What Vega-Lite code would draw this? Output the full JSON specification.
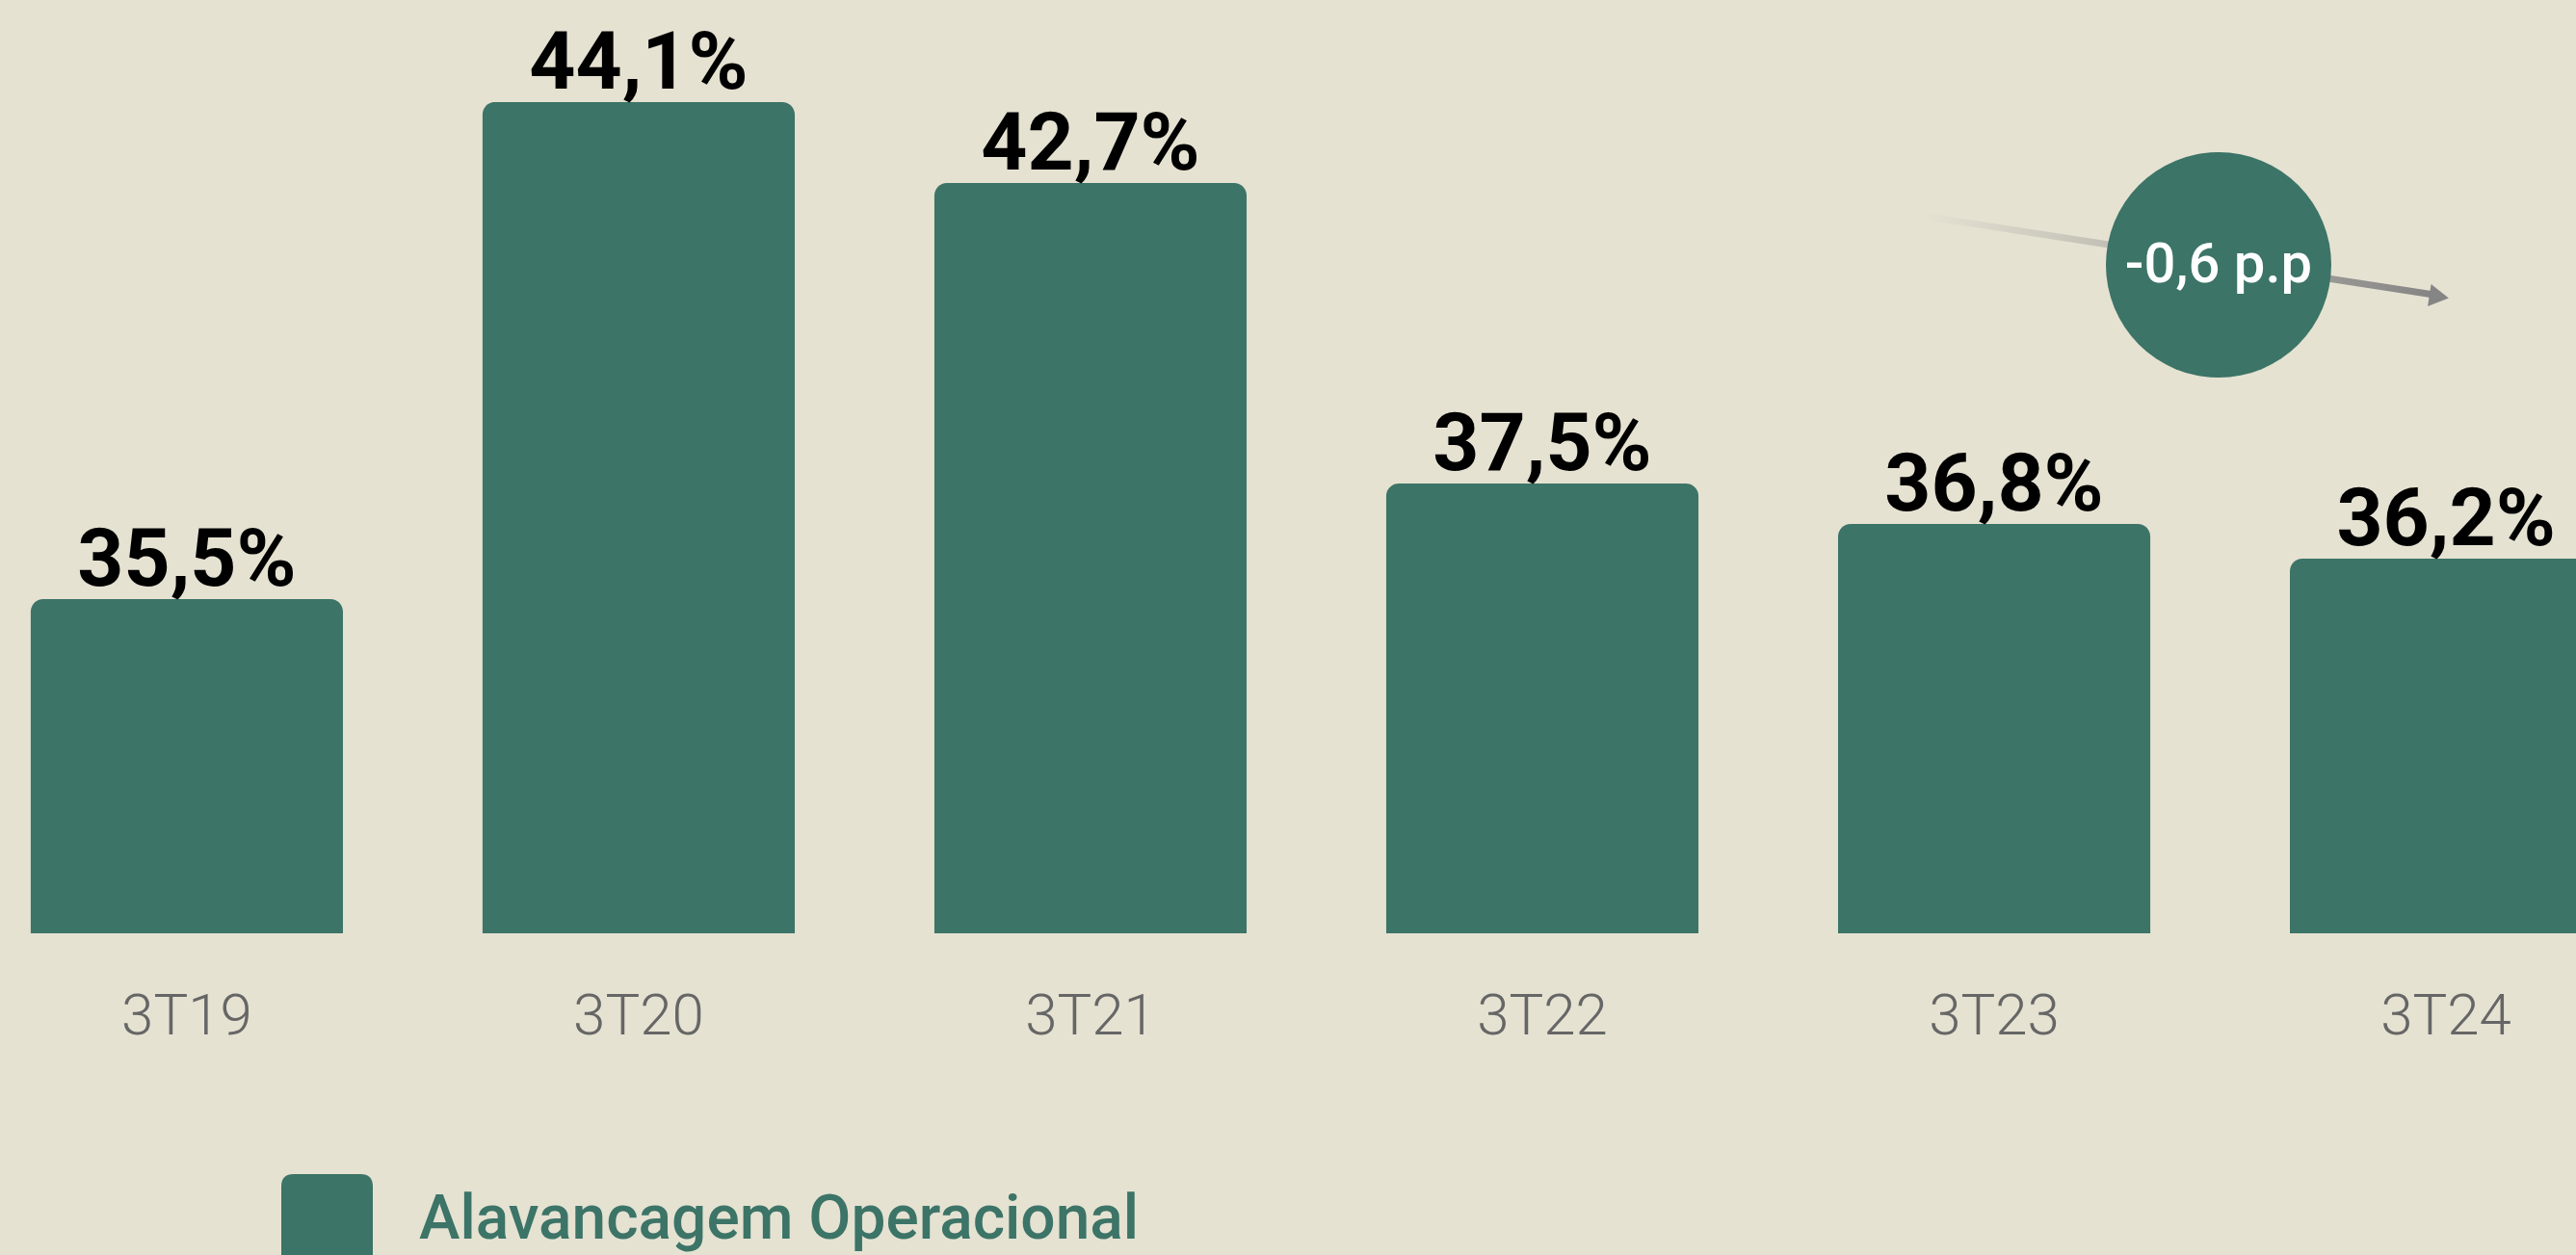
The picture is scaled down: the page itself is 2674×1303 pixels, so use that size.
{
  "$schema": "https://vega.github.io/schema/vega-lite/v6.json",
  "width": 2674,
  "height": 969,
  "autosize": {"type": "none"},
  "padding": {"left": 0, "top": 0, "right": 0, "bottom": 334},
  "background": "#e5e2d2",
  "config": {"view": {"stroke": null}, "font": "Roboto"},
  "datasets": {
    "barras": [
      {"periodo": "3T19", "valor": 35.5, "rotulo": "35,5%", "serie": "Alavancagem Operacional"},
      {"periodo": "3T20", "valor": 44.1, "rotulo": "44,1%", "serie": "Alavancagem Operacional"},
      {"periodo": "3T21", "valor": 42.7, "rotulo": "42,7%", "serie": "Alavancagem Operacional"},
      {"periodo": "3T22", "valor": 37.5, "rotulo": "37,5%", "serie": "Alavancagem Operacional"},
      {"periodo": "3T23", "valor": 36.8, "rotulo": "36,8%", "serie": "Alavancagem Operacional"},
      {"periodo": "3T24", "valor": 36.2, "rotulo": "36,2%", "serie": "Alavancagem Operacional"}
    ],
    "linha": [
      {"i": 3.842, "valor": 42.13},
      {"i": 4.97, "valor": 40.77}
    ],
    "seta": [
      {"i": 4.985, "valor": 40.733}
    ],
    "bolha": [
      {"i": 4.497, "valor": 41.283, "vt": 40.984, "texto": "-0,6 p.p"}
    ]
  },
  "layer": [
    {
      "layer": [
        {
          "data": {"name": "barras"},
          "mark": {"type": "bar", "cornerRadiusTopLeft": 13, "cornerRadiusTopRight": 13},
          "encoding": {
            "x": {
              "field": "periodo", "type": "nominal", "sort": null,
              "scale": {"range": [0, 2733], "paddingInner": 0.309, "paddingOuter": 0.068},
              "axis": {
                "title": null, "domain": false, "ticks": false, "tickSize": 0, "grid": false,
                "labelPadding": 104, "labelBaseline": "alphabetic", "labelAngle": 0,
                "labelFont": "Roboto", "labelFontWeight": 300, "labelFontSize": 60, "labelColor": "#666666"
              }
            },
            "y": {
              "field": "valor", "type": "quantitative",
              "scale": {"domain": [29.717, 45.867], "zero": false, "nice": false},
              "axis": null
            },
            "y2": {"datum": 29.717},
            "color": {
              "field": "serie", "type": "nominal",
              "scale": {"range": ["#3c7467"]},
              "legend": {
                "orient": "none", "legendX": 292, "legendY": 1219, "title": null, "padding": 0,
                "symbolType": "M -0.73 -1 L 0.73 -1 Q 1 -1 1 -0.73 L 1 0.73 Q 1 1 0.73 1 L -0.73 1 Q -1 1 -1 0.73 L -1 -0.73 Q -1 -1 -0.73 -1 Z",
                "symbolSize": 9025, "symbolStrokeWidth": 0, "symbolOpacity": 1, "symbolFillColor": "#3c7467",
                "labelFont": "Roboto", "labelFontWeight": 500, "labelFontSize": 64, "labelColor": "#3c7467",
                "labelOffset": 48, "labelLimit": 0, "labelBaseline": "middle"
              }
            }
          }
        },
        {
          "data": {"name": "barras"},
          "mark": {"type": "text", "baseline": "alphabetic", "align": "center", "dy": -14, "font": "Roboto", "fontSize": 84, "fontWeight": "bold", "color": "#000000"},
          "encoding": {
            "x": {"field": "periodo", "type": "nominal", "sort": null},
            "y": {"field": "valor", "type": "quantitative"},
            "text": {"field": "rotulo"}
          }
        }
      ]
    },
    {
      "layer": [
        {
          "data": {"name": "linha"},
          "mark": {
            "type": "line", "strokeWidth": 7, "strokeCap": "butt",
            "stroke": {"gradient": "linear", "x1": 0, "y1": 0, "x2": 1, "y2": 0,
              "stops": [{"offset": 0, "color": "#e5e2d2"}, {"offset": 1, "color": "#858585"}]}
          },
          "encoding": {
            "x": {"field": "i", "type": "quantitative", "scale": {"domain": [-0.41343, 5.28806], "nice": false, "zero": false}, "axis": null},
            "y": {"field": "valor", "type": "quantitative", "scale": {"domain": [29.717, 45.867], "zero": false, "nice": false}, "axis": null}
          }
        },
        {
          "data": {"name": "seta"},
          "mark": {"type": "point", "shape": "triangle-right", "filled": true, "size": 550, "color": "#858585", "opacity": 1, "angle": 8.7},
          "encoding": {
            "x": {"field": "i", "type": "quantitative"},
            "y": {"field": "valor", "type": "quantitative"}
          }
        },
        {
          "data": {"name": "bolha"},
          "mark": {"type": "point", "shape": "circle", "filled": true, "size": 54756, "color": "#3c7467", "opacity": 1},
          "encoding": {
            "x": {"field": "i", "type": "quantitative"},
            "y": {"field": "valor", "type": "quantitative"}
          }
        },
        {
          "data": {"name": "bolha"},
          "mark": {"type": "text", "baseline": "alphabetic", "align": "center", "font": "Roboto", "fontSize": 58, "fontWeight": 500, "color": "#ffffff"},
          "encoding": {
            "x": {"field": "i", "type": "quantitative"},
            "y": {"field": "vt", "type": "quantitative"},
            "text": {"field": "texto"}
          }
        }
      ]
    }
  ],
  "resolve": {"scale": {"x": "independent"}, "axis": {"x": "independent"}}
}
